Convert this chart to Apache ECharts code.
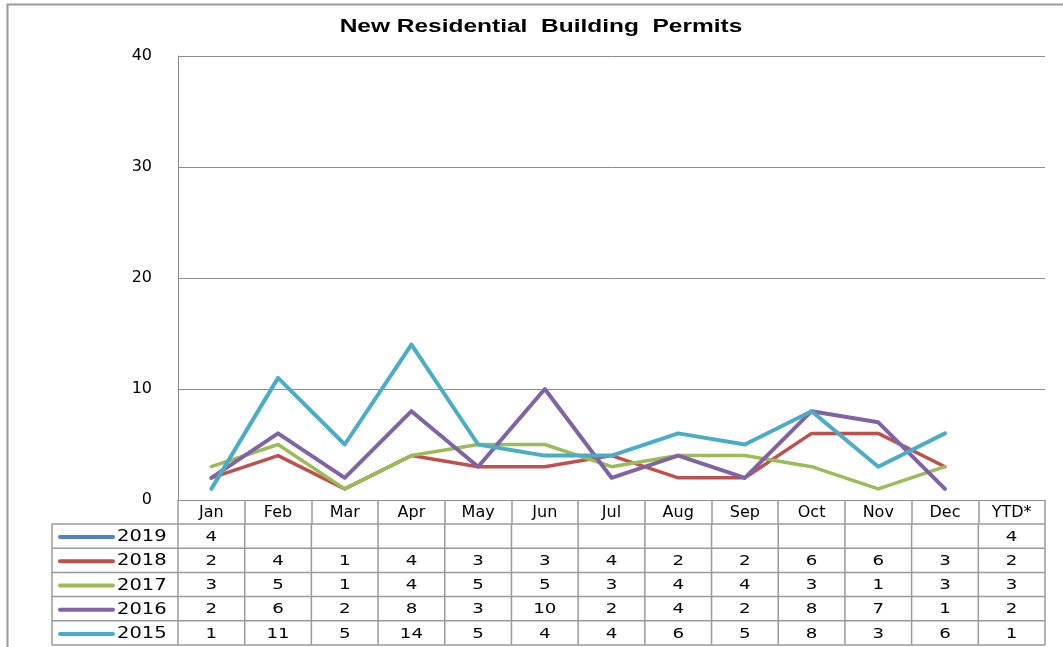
<!DOCTYPE html>
<html>
<head>
<meta charset="utf-8">
<script src="https://cdn.jsdelivr.net/npm/echarts@6/dist/echarts.min.js"></script>
<style>
  html, body { margin: 0; padding: 0; background: #fff; }
  #chart { width: 1063px; height: 647px; }
</style>
</head>
<body>
<div id="chart"></div>
<script>
// categories
var months = ['Jan', 'Feb', 'Mar', 'Apr', 'May', 'Jun', 'Jul', 'Aug', 'Sep', 'Oct', 'Nov', 'Dec', 'YTD*'];
var years = ['2019', '2018', '2017', '2016', '2015'];
var colors = ['#4F81BD', '#C0504D', '#9BBB59', '#8064A2', '#4BACC6'];
var widths = [3.5, 3.5, 3.5, 4, 4];

// monthly permits per year (null = no data yet)
var y2019 = [4, null, null, null, null, null, null, null, null, null, null, null];
var y2018 = [2, 4, 1, 4, 3, 3, 4, 2, 2, 6, 6, 3];
var y2017 = [3, 5, 1, 4, 5, 5, 3, 4, 4, 3, 1, 3];
var y2016 = [2, 6, 2, 8, 3, 10, 2, 4, 2, 8, 7, 1];
var y2015 = [1, 11, 5, 14, 5, 4, 4, 6, 5, 8, 3, 6];
// year-to-date column
var ytd = [4, 2, 3, 2, 1];

var yTicks = [0, 10, 20, 30, 40];

var rowsData = [y2019, y2018, y2017, y2016, y2015];
var gridCol = '#8c8c8c';
var tableCol = '#9a9a9a';

var myChart = echarts.init(document.getElementById('chart'));

var series = [];
for (var i = 0; i < years.length; i++) {
    series.push({
        name: years[i],
        type: 'line',
        data: rowsData[i].concat([null]),
        showSymbol: false,
        connectNulls: false,
        lineStyle: { width: widths[i], color: colors[i], cap: 'round', join: 'round' },
        itemStyle: { color: colors[i] },
        z: 2 + i
    });
}

var option = {
    animation: false,
    grid: { left: 178, right: 18, top: 56, bottom: 147 },
    xAxis: {
        type: 'category',
        data: months,
        boundaryGap: true,
        axisLine: { lineStyle: { color: gridCol, width: 1 } },
        axisTick: { show: true, length: 24, interval: 0, lineStyle: { color: tableCol, width: 1.5 } },
        axisLabel: { interval: 0, margin: 5, fontFamily: 'DejaVu Sans', fontSize: 16, color: '#000' }
    },
    yAxis: {
        type: 'value',
        min: yTicks[0],
        max: yTicks[yTicks.length - 1],
        interval: 10,
        axisLine: { show: true, lineStyle: { color: gridCol, width: 1 } },
        axisTick: { show: false },
        splitLine: { lineStyle: { color: gridCol, width: 1 } },
        axisLabel: { margin: 26, fontFamily: 'DejaVu Sans', fontSize: 16, color: '#000' }
    },
    series: series
};

myChart.setOption(option);

// title + data table under the chart
function buildTable() {
    var g = [];
    var n = months.length;
    var x0 = myChart.convertToPixel({ xAxisIndex: 0 }, 0);
    var x1 = myChart.convertToPixel({ xAxisIndex: 0 }, 1);
    var cw = x1 - x0;
    var left = x0 - cw / 2;
    var right = left + cw * n;
    var tableLeft = 52;
    var top = 524;
    var rh = 24.2;

    g.push({ type: 'text', x: 541, y: 27, scaleX: 1.36,
        style: { text: 'New Residential  Building  Permits', fontFamily: 'Liberation Sans', fontWeight: 'bold',
            fontSize: 18, fill: '#000', textAlign: 'center', textVerticalAlign: 'middle' }, silent: true });

    // outer chart frame
    g.push({ type: 'polyline', shape: { points: [[7.5, 700], [7.5, 4.5], [1100, 4.5]] },
        style: { stroke: '#999', lineWidth: 2, fill: null }, silent: true });

    for (var r = 0; r <= years.length; r++) {
        g.push({ type: 'line', shape: { x1: tableLeft, y1: top + r * rh, x2: right, y2: top + r * rh },
            style: { stroke: tableCol, lineWidth: 1.5 }, silent: true });
    }
    var bottom = top + years.length * rh;
    g.push({ type: 'line', shape: { x1: tableLeft, y1: top, x2: tableLeft, y2: bottom },
        style: { stroke: tableCol, lineWidth: 1.5 }, silent: true });
    for (var c = 0; c <= n; c++) {
        var xb = left + c * cw;
        g.push({ type: 'line', shape: { x1: xb, y1: top, x2: xb, y2: bottom },
            style: { stroke: tableCol, lineWidth: 1.5 }, silent: true });
    }

    for (var i = 0; i < years.length; i++) {
        var cy = top + i * rh + rh / 2 + 1;
        // legend key
        g.push({ type: 'line', shape: { x1: 60, y1: cy, x2: 113, y2: cy },
            style: { stroke: colors[i], lineWidth: 4, lineCap: 'round' }, silent: true });
        g.push({ type: 'text', x: 117, y: cy, scaleX: 1.22,
            style: { text: years[i], fontFamily: 'DejaVu Sans', fontSize: 16, fill: '#000',
                textAlign: 'left', textVerticalAlign: 'middle' }, silent: true });
        var vals = rowsData[i].concat([ytd[i]]);
        for (var c2 = 0; c2 < n; c2++) {
            if (vals[c2] == null) continue;
            var cx = myChart.convertToPixel({ xAxisIndex: 0 }, c2);
            g.push({ type: 'text', x: cx, y: cy, scaleX: 1.3,
                style: { text: String(vals[c2]), fontFamily: 'DejaVu Sans', fontSize: 14, fill: '#000',
                    textAlign: 'center', textVerticalAlign: 'middle' }, silent: true });
        }
    }
    myChart.setOption({ graphic: g });
}
buildTable();
</script>
</body>
</html>
